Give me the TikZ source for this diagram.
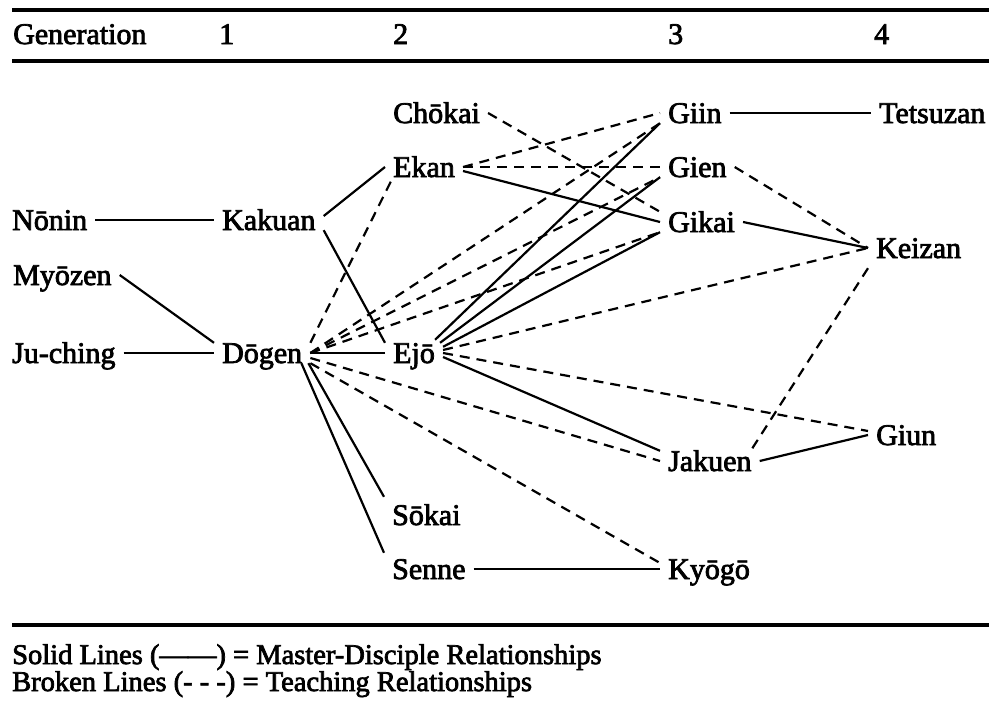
\documentclass[tikz,border=0pt]{standalone}
\usepackage{fontspec}
\setmainfont{Liberation Serif}[FakeBold=2.5]
\begin{document}
\begin{tikzpicture}[x=1pt,y=-1pt,
  lbl/.style={inner xsep=8pt, inner ysep=0pt, text height=20pt, text depth=0pt,
              anchor=base west, xshift=-8pt, font=\fontsize{30}{36}\selectfont},
  hdr/.style={inner sep=0pt, anchor=base west, font=\fontsize{30}{36}\selectfont},
  leg/.style={inner sep=0pt, anchor=base west, font=\fontsize{28.5}{30}\selectfont},
  rel/.style={line width=2.2pt},
  teach/.style={line width=2.2pt, dash pattern=on 10pt off 7pt},
  rulebar/.style={line width=3.4pt}]
\useasboundingbox (0,0) rectangle (989,702);

% rules
\draw[rulebar] (12,10) -- (989,10);
\draw[rulebar] (12,61) -- (989,61);
\draw[rulebar] (12,625) -- (989,625);

% header
\node[hdr] (hgen) at (13,44) {Generation};
\node[hdr] (h1) at (219,44) {1};
\node[hdr] (h2) at (393,44) {2};
\node[hdr] (h3) at (668,44) {3};
\node[hdr] (h4) at (874,44) {4};

% nodes (x = left of text, y = baseline)
\node[lbl] (nonin)   at (12,230)  {Nōnin};
\node[lbl] (kakuan)  at (222,230) {Kakuan};
\node[lbl] (myozen)  at (13,285)  {Myōzen};
\node[lbl] (juching) at (12,363)  {Ju-ching};
\node[lbl] (dogen)   at (222,363) {Dōgen};
\node[lbl] (ejo)     at (393,363) {Ejō};
\node[lbl] (chokai)  at (393,123) {Chōkai};
\node[lbl] (ekan)    at (393,177) {Ekan};
\node[lbl] (sokai)   at (392,525) {Sōkai};
\node[lbl] (senne)   at (392,579) {Senne};
\node[lbl] (giin)    at (668,123) {Giin};
\node[lbl] (gien)    at (668,177) {Gien};
\node[lbl] (gikai)   at (668,232) {Gikai};
\node[lbl] (jakuen)  at (668,471) {Jakuen};
\node[lbl] (kyogo)   at (668,579) {Kyōgō};
\node[lbl] (tetsuzan) at (879,123) {Tetsuzan};
\node[lbl] (keizan)  at (876,258) {Keizan};
\node[lbl] (giun)    at (876,445) {Giun};

% master-disciple (solid)
\draw[rel] (nonin.east) -- (kakuan.west);
\draw[rel] ([yshift=4pt]kakuan.east) -- (ekan.west);
\draw[rel] (kakuan.south east) -- (ejo.north west);
\draw[rel] (myozen.east) -- (dogen.north west);
\draw[rel] (juching.east) -- (dogen.west);
\draw[rel] (ejo.west) -- (dogen.east);
\draw[rel] ([xshift=-2pt]dogen.south east) -- ([yshift=8pt]sokai.north west);
\draw[rel] ([xshift=-9pt]dogen.south east) -- ([yshift=6pt]senne.north west);
\draw[rel] (senne.east) -- (kyogo.west);
\draw[rel] ([yshift=-4pt]ekan.east) -- (gikai.west);
\draw[rel] ([xshift=-8pt,yshift=3pt]ejo.north east) -- (giin.south west);
\draw[rel] ([xshift=-3pt]ejo.north east) -- (gien.south west);
\draw[rel] ([yshift=-4pt]ejo.north east) -- (gikai.south west);
\draw[rel] ([yshift=-4pt]ejo.east) -- (jakuen.north west);
\draw[rel] (giin.east) -- (tetsuzan.west);
\draw[rel] (gikai.east) -- (keizan.west);
\draw[rel] (jakuen.east) -- (giun.west);

% teaching (broken)
\draw[teach] (dogen.north east) -- ([xshift=8pt]ekan.south west);
\draw[teach] (dogen.east) -- (giin.south west);
\draw[teach] (dogen.east) -- (gien.south west);
\draw[teach] (dogen.east) -- (gikai.south west);
\draw[teach] ([yshift=-5pt]dogen.east) -- (jakuen.west);
\draw[teach] (dogen.south east) -- ([yshift=6pt]kyogo.west);
\draw[teach] (ekan.east) -- (giin.west);
\draw[teach] (ekan.east) -- (gien.west);
\draw[teach] (chokai.east) -- (gikai.north west);
\draw[teach] (gien.east) -- (keizan.west);
\draw[teach] ([yshift=3pt]ejo.east) -- (keizan.west);
\draw[teach] (ejo.east) -- ([yshift=4pt]giun.west);
\draw[teach] ([yshift=-10pt]keizan.south west) -- ([xshift=-9pt]jakuen.north east);

% legend
\node[leg] (leg1) at (12,664) {Solid Lines (——) = Master-Disciple Relationships};
\node[leg] (leg2) at (12,691) {Broken Lines (- - -) = Teaching Relationships};
\end{tikzpicture}
\end{document}
